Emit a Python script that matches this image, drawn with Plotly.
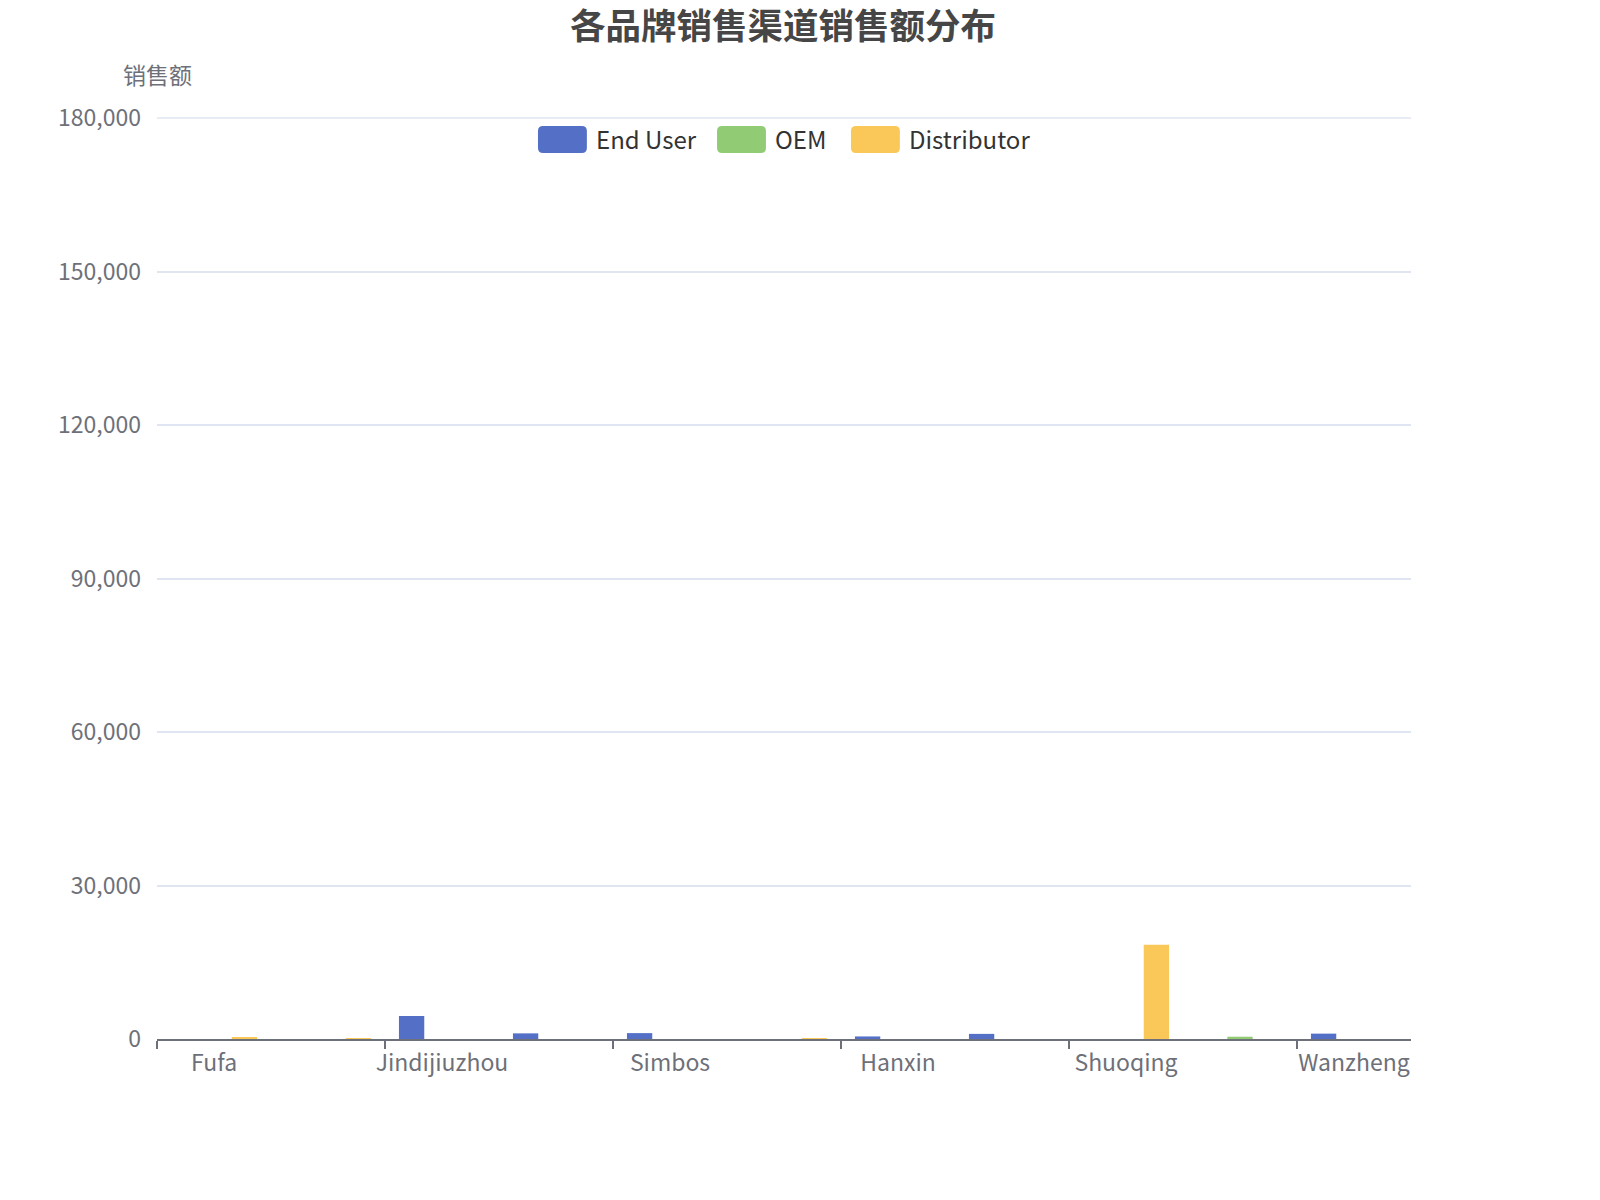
import plotly.graph_objects as go

# brands (only every second name is shown on the axis)
brands = ["Fufa", "Kaiyuan", "Jindijiuzhou", "Huaxing", "Simbos", "Tianma",
          "Hanxin", "Yongxin", "Shuoqing", "Dongsheng", "Wanzheng"]
end_user = [0, 0, 4500, 1100, 1150, 0, 500, 1000, 0, 0, 1050]
oem = [0, 0, 0, 0, 0, 0, 0, 0, 0, 450, 0]
distributor = [250, 150, 0, 0, 0, 150, 0, 0, 18400, 0, 0]
y_ticks = [0, 30000, 60000, 90000, 120000, 150000, 180000]

series = [("End User", end_user, "#5470c6"),
          ("OEM", oem, "#91cc75"),
          ("Distributor", distributor, "#fac858")]

AXIS_GREY = "#6E7079"
FONT = "Noto Sans CJK SC"

fig = go.Figure()
for name, vals, col in series:
    fig.add_trace(go.Bar(x=brands, y=vals, name=name, marker_color=col,
                         marker_line_width=0, showlegend=False))


def round_rect(x0, y0, x1, y1, rx=0.004, ry=0.0055):
    """rounded rectangle path in paper units"""
    return (f"M{x0+rx},{y0} L{x1-rx},{y0} Q{x1},{y0} {x1},{y0+ry} "
            f"L{x1},{y1-ry} Q{x1},{y1} {x1-rx},{y1} L{x0+rx},{y1} "
            f"Q{x0},{y1} {x0},{y1-ry} L{x0},{y0+ry} Q{x0},{y0} {x0+rx},{y0} Z")


# legend drawn by hand to get the wide rounded swatches
legend_x = [0.3038, 0.4466, 0.5534]
shapes = [
    # top gridline (plotly drops the one sitting on the plot edge)
    {"type": "line", "xref": "paper", "yref": "paper", "x0": 0, "x1": 1,
     "y0": 1, "y1": 1, "line": {"color": "#E0E6F1", "width": 1.5},
     "layer": "below"},
]
annotations = []
for (name, _, col), lx in zip(series, legend_x):
    shapes.append({"type": "path", "xref": "paper", "yref": "paper",
                   "path": round_rect(lx, 0.962, lx + 0.039, 0.9913),
                   "fillcolor": col, "line": {"width": 0}})
    annotations.append({"text": name, "xref": "paper", "yref": "paper",
                        "x": 0.0445 + lx, "y": 0.9772, "xanchor": "left",
                        "yanchor": "middle", "showarrow": False,
                        "font": {"size": 24, "color": "#333333"}})
annotations.append({"text": "销售额", "xref": "paper", "yref": "paper",
                    "x": 0, "y": 1.0478, "xanchor": "center", "yanchor": "middle",
                    "showarrow": False, "font": {"size": 23, "color": AXIS_GREY}})

fig.update_layout(
    width=1584, height=1184,
    plot_bgcolor="white", paper_bgcolor="white",
    margin={"l": 149, "r": 181, "t": 110, "b": 153},
    barmode="group", bargap=0.2, bargroupgap=0.167,
    font={"family": FONT, "size": 22, "color": AXIS_GREY},
    title={"text": "<b>各品牌销售渠道销售额分布</b>", "x": 0.4893, "xanchor": "center",
           "xref": "container", "y": 0.9845, "yref": "container", "yanchor": "middle",
           "font": {"size": 35.5, "color": "#464646", "family": FONT}},
    shapes=shapes,
    annotations=annotations,
)
fig.update_xaxes(
    type="category", tickmode="linear", dtick=2, tickson="boundaries",
    ticks="outside", ticklen=8, tickwidth=1.5, tickcolor=AXIS_GREY,
    showline=True, linecolor=AXIS_GREY, linewidth=1.5, tickangle=0,
    ticklabelstandoff=3,
    showgrid=False, tickfont={"size": 23, "color": AXIS_GREY},
)
fig.update_yaxes(
    range=[0, 180000], tickvals=y_ticks, tickformat=",",
    showgrid=True, gridcolor="#E0E6F1", gridwidth=1.5,
    zeroline=False, showline=False, ticks="",
    ticklabelstandoff=15, tickfont={"size": 23, "color": AXIS_GREY},
)

fig.write_html("out.html")
